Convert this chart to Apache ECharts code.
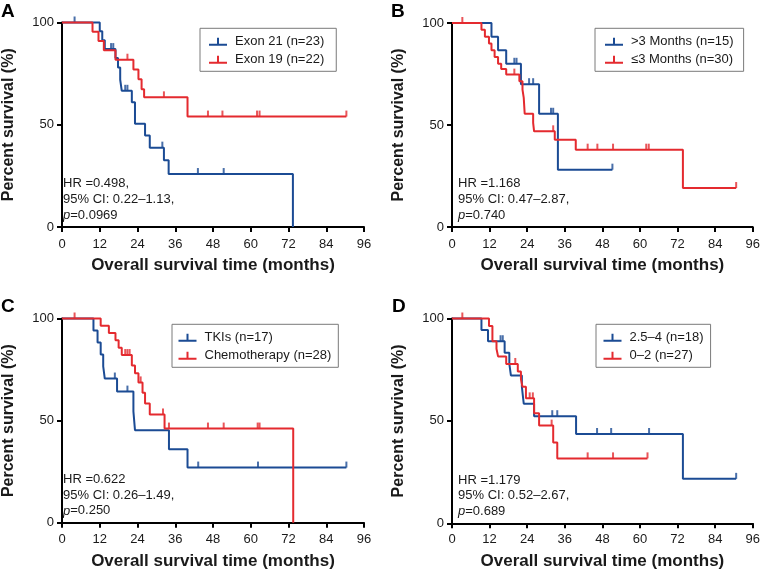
<!DOCTYPE html>
<html><head><meta charset="utf-8">
<script src="https://cdn.jsdelivr.net/npm/echarts@6/dist/echarts.min.js"></script>
<style>html,body{margin:0;padding:0;background:#fff}#c{width:763px;height:572px}</style>
</head><body><div id="c"></div>
<script>
// ---------- data ----------
const xTickStep = 12;           // x ticks 0..96
const xMax = 96;
const yTickStep = 50;           // y ticks 0, 50, 100
const yMax = 100;

// Panel A
const aBlueName = 'Exon 21 (n=23)';
const aBlueTime = [0,12,12.8,13.6,17,17.8,18.5,19,22.2,23.2,26.4,27.9,32.4,33.9,73.4];
const aBlueSurv = [100,95.7,91.3,87,82.6,78,72,66.6,61,50.5,44.8,38.8,32.7,25.9,0];
const aBlueCens = [4,15.6,16.3,20.1,20.8,31.9,43.2,51.4];
const aRedName = 'Exon 19 (n=22)';
const aRedTime = [0,9.7,11.6,13.3,17,22.7,24.3,25.3,26.1,39.9,90.4];
const aRedSurv = [100,95.5,90.9,86.4,81.8,77,72.2,67.4,63.4,54,54];
const aRedCens = [20.8,32.4,46.4,51,62,62.8,90.4];

// Panel B
const bBlueName = '>3 Months (n=15)';
const bBlueTime = [0,12.6,14.7,17.3,22,27.8,33.8,51.2];
const bBlueSurv = [100,93.3,86.7,80,70,55.5,28.1,28.1];
const bBlueCens = [19.9,20.6,24.6,25.9,31.6,32.3,51.2];
const bRedName = '≤3 Months (n=30)';
const bRedTime = [0,9.4,10.5,11.8,12.6,13.6,14.7,15.7,17.3,21.5,22.5,22.9,23.2,25.9,26.2,32.8,39.5,73.7,90.7];
const bRedSurv = [100,96.7,93.3,90,86.7,83.3,80,77.5,74.7,71.4,67.3,63.3,55.5,51,46.9,42.8,37.9,19.1,19.1];
const bRedCens = [3.3,19.9,32.3,43.3,46.4,51.4,62,62.8,90.7];

// Panel C
const cBlueName = 'TKIs (n=17)';
const cBlueTime = [0,10,11.3,12.3,13.1,13.6,17.5,22.7,23.2,34,39.9,90.4];
const cBlueSurv = [100,94.1,88.2,82.4,76.5,70.6,64.2,54.5,45.3,36,27,27];
const cBlueCens = [16.8,20.8,43.3,62.3,90.4];
const cRedName = 'Chemotherapy (n=28)';
const cRedTime = [0,12.3,14.9,17,18,19,22.2,23.2,24.3,25.6,26.4,27.9,32.6,73.5];
const cRedSurv = [100,96.4,92.9,89.3,85.7,82.1,77,73.2,68.7,63.6,58.4,53,46.1,0];
const cRedCens = [4,20.1,20.8,21.5,25,32.1,34,46.4,51.4,62.2,62.8];

// Panel D
const dBlueName = '2.5–4 (n=18)';
const dBlueTime = [0,9.4,11.5,16.8,18.3,18.8,22.3,22.6,22.9,26.2,39.6,73.7,90.7];
const dBlueSurv = [100,94.4,88.9,83.3,77.8,72.2,66.7,62.5,58.4,52.3,43.6,21.7,21.7];
const dBlueCens = [15.5,16.2,32,33.6,46.3,50.8,62.9,90.7];
const dRedName = '0–2 (n=27)';
const dRedTime = [0,11.8,12.9,14.2,14.7,17.3,21,22,22.5,23.6,26.2,27.8,32.3,33.6,62.4];
const dRedSurv = [100,96.3,88.9,85.2,81.5,77.8,74.1,70.4,66.7,61,53.7,47.7,39.5,31.7,31.7];
const dRedCens = [3.3,20.2,24.8,25.8,31.8,43.3,51.4,62.4];

const panelLetters = ['A','B','C','D'];
const hrLines = [
  ['HR =0.498,', '95% CI: 0.22–1.13,', '{i|p}=0.0969'],
  ['HR =1.168', '95% CI: 0.47–2.87,', '{i|p}=0.740'],
  ['HR =0.622', '95% CI: 0.26–1.49,', '{i|p}=0.250'],
  ['HR =1.179', '95% CI: 0.52–2.67,', '{i|p}=0.689']
];
const xTitle = 'Overall survival time (months)';
const yTitle = 'Percent survival (%)';

// ---------- styling / layout ----------
const BLUE = '#1b4b94', RED = '#e42a2f', INK = '#1a1a1a';
const FONT = "'Liberation Sans', Arial, sans-serif";
const grids = [
  {left:57, top:22.5, width:307, height:204.5},
  {left:452, top:23, width:305, height:204},
  {left:57, top:318.5, width:307, height:204.2},
  {left:452, top:318.5, width:305, height:204.8}
];
const panels = [
  {blue:[aBlueName,aBlueTime,aBlueSurv,aBlueCens], red:[aRedName,aRedTime,aRedSurv,aRedCens]},
  {blue:[bBlueName,bBlueTime,bBlueSurv,bBlueCens], red:[bRedName,bRedTime,bRedSurv,bRedCens]},
  {blue:[cBlueName,cBlueTime,cBlueSurv,cBlueCens], red:[cRedName,cRedTime,cRedSurv,cRedCens]},
  {blue:[dBlueName,dBlueTime,dBlueSurv,dBlueCens], red:[dRedName,dRedTime,dRedSurv,dRedCens]}
];
const legendPos = [
  {left:200, top:28.3, padding:[7,12,5,9]},
  {left:595, top:28.3, padding:[7,10,5,10]},
  {left:172, top:324.3, padding:[7,7,5,6.5]},
  {left:596, top:324.3, padding:[7,7,5,7.5]}
];
const labelMargin = [11,11,10,10];
const letterPos = [[1,11.7],[391,11.7],[1,306.5],[392,306.5]];

function survAt(T,S,t){let v=S[0];for(let i=0;i<T.length;i++){if(T[i]<=t+1e-9)v=S[i];}return v;}
const ICON = 'path://M0,6L18,6L18,8L0,8Z M8,0L10,0L10,6L8,6Z';

const xAxes=[], yAxes=[], series=[], legends=[], graphics=[];
panels.forEach((p,gi)=>{
  xAxes.push({gridIndex:gi,type:'value',min:0,max:xMax,interval:xTickStep,
    axisLine:{show:true,onZero:false,lineStyle:{color:'#000',width:2}},
    axisTick:{show:true,length:5,lineStyle:{color:'#000',width:2}},
    axisLabel:{fontSize:13,color:INK,margin:labelMargin[gi],fontFamily:FONT},
    splitLine:{show:false},
    name:xTitle,nameLocation:'middle',nameGap:30,
    nameTextStyle:{fontSize:17,fontWeight:'bold',color:INK,fontFamily:FONT}});
  yAxes.push({gridIndex:gi,type:'value',min:0,max:yMax,interval:yTickStep,
    axisLine:{show:true,lineStyle:{color:'#000',width:2}},
    axisTick:{show:true,length:5,lineStyle:{color:'#000',width:2}},
    axisLabel:{fontSize:13,color:INK,margin:8,fontFamily:FONT},
    splitLine:{show:false},
    name:yTitle,nameLocation:'middle',nameGap:45,
    nameTextStyle:{fontSize:16,fontWeight:'bold',color:INK,fontFamily:FONT}});
  [['blue',BLUE],['red',RED]].forEach(([k,col])=>{
    const [name,T,S,C]=p[k];
    series.push({type:'line',name:name,xAxisIndex:gi,yAxisIndex:gi,step:'end',
      data:T.map((t,i)=>[t,S[i]]),showSymbol:false,symbol:'none',color:col,
      lineStyle:{color:col,width:2},clip:false,animation:false,z:k==='red'?4:3});
    series.push({type:'scatter',name:name+' censored',xAxisIndex:gi,yAxisIndex:gi,
      data:C.map(t=>[t,survAt(T,S,t)]),symbol:'rect',symbolSize:[2,6],symbolOffset:[0,-3],
      itemStyle:{color:col},clip:false,animation:false,silent:true,z:k==='red'?5:3});
  });
  legends.push(Object.assign({data:[p.blue[0],p.red[0]],orient:'vertical',
    borderColor:'#7a7a7a',borderWidth:1,itemGap:5,itemWidth:18,itemHeight:8,icon:ICON,
    selectedMode:false,
    textStyle:{fontSize:13,color:INK,fontFamily:FONT,padding:[0,0,0,3]}},legendPos[gi]));
  const g=grids[gi];
  graphics.push({type:'text',x:letterPos[gi][0],y:letterPos[gi][1],
    style:{text:panelLetters[gi],font:"bold 19px "+FONT,fill:'#000',verticalAlign:'middle'}});
  const base=g.top+g.height, tx=g.left+6;
  [-43.2,-27.6,-11.8].forEach((dy,li)=>{
    graphics.push({type:'text',x:tx,y:base+dy,
      style:{text:hrLines[gi][li],font:"13px "+FONT,fill:INK,verticalAlign:'middle',
        rich:{i:{fontStyle:'italic',fontSize:13,fontFamily:FONT,fill:INK}}}});
  });
});

const chart = echarts.init(document.getElementById('c'),null,{renderer:'canvas'});
chart.setOption({
  animation:false,
  backgroundColor:'#fff',
  textStyle:{fontFamily:FONT},
  grid:grids,
  xAxis:xAxes,
  yAxis:yAxes,
  legend:legends,
  series:series,
  graphic:graphics
});
</script>
</body></html>
